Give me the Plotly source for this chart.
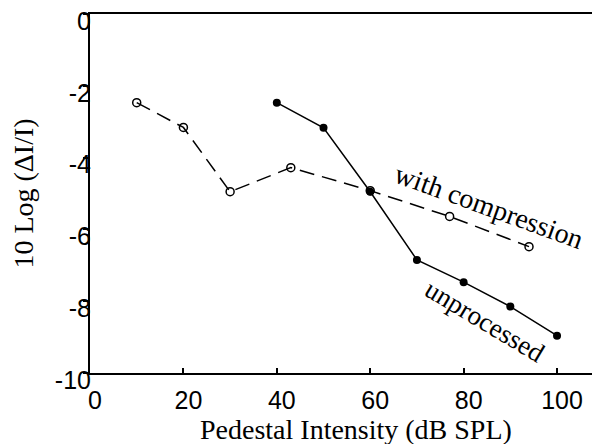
import plotly.graph_objects as go

# Data
comp_x = [10, 20, 30, 43, 60, 77, 94]
comp_y = [-2.47, -3.16, -4.95, -4.28, -4.92, -5.64, -6.48]
unproc_x = [40, 50, 60, 70, 80, 90, 100]
unproc_y = [-2.47, -3.17, -4.95, -6.85, -7.47, -8.15, -8.96]
x_ticks = [0, 20, 40, 60, 80, 100]
y_ticks = [0, -2, -4, -6, -8, -10]

fig = go.Figure()
fig.add_trace(go.Scatter(
    x=comp_x, y=comp_y, mode="lines+markers",
    line=dict(color="black", width=1.5, dash="15px,8px"),
    marker=dict(symbol="circle-open", size=8, color="black", line=dict(width=1.5)),
    showlegend=False,
))
fig.add_trace(go.Scatter(
    x=unproc_x, y=unproc_y, mode="lines+markers",
    line=dict(color="black", width=1.5),
    marker=dict(symbol="circle", size=8, color="black"),
    showlegend=False,
))

fig.add_annotation(x=85.5, y=-5.35, xref="x", yref="y", text="with compression",
                   showarrow=False, textangle=20,
                   font=dict(family="Liberation Serif", size=28, color="black"))
fig.add_annotation(x=84.5, y=-8.55, xref="x", yref="y", text="unprocessed",
                   showarrow=False, textangle=31,
                   font=dict(family="Liberation Serif", size=27, color="black"))
# x-axis title
fig.add_annotation(x=0.522, y=-0.158, xref="paper", yref="paper",
                   text="Pedestal Intensity (dB SPL)", showarrow=False,
                   xanchor="center", yanchor="middle",
                   font=dict(family="Liberation Serif", size=28, color="black"))

fig.update_layout(
    width=600, height=444,
    margin=dict(l=82, r=8, t=6, b=79),
    paper_bgcolor="white", plot_bgcolor="white",
    xaxis=dict(
        range=[0, 109.2], tickvals=x_ticks, ticktext=[str(v) for v in x_ticks],
        ticks="inside", ticklen=5, tickwidth=1.5, tickcolor="black",
        showline=True, linecolor="black", linewidth=2, mirror=True,
        showgrid=False, zeroline=False, ticklabelstandoff=4, automargin=False,
        ticklabeloverflow="allow", ticklabelshift=5,
        tickfont=dict(family="Liberation Sans", size=25, color="black"),
    ),
    yaxis=dict(
        range=[-10, 0], tickvals=y_ticks, ticktext=[str(v) for v in y_ticks],
        ticks="outside", ticklen=5, tickwidth=1.5, tickcolor="black",
        showline=True, linecolor="black", linewidth=2,
        showgrid=False, zeroline=False, ticklabelstandoff=-13, automargin=False,
        ticklabeloverflow="allow", ticklabelshift=7,
        tickfont=dict(family="Liberation Sans", size=25, color="black"),
        title=dict(text="10 Log (ΔI/I)",
                   font=dict(family="Liberation Serif", size=28, color="black")),
    ),
)

fig.write_html("out.html")
